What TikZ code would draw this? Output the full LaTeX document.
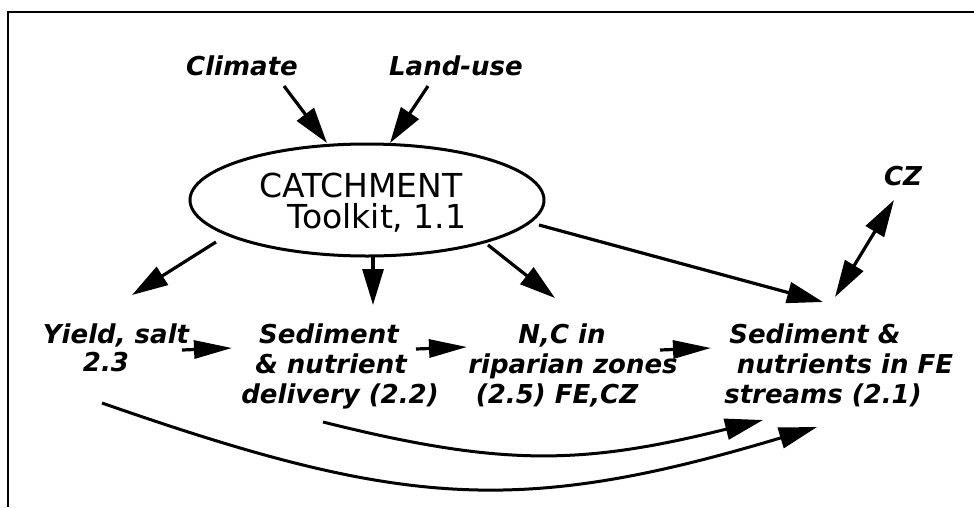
\documentclass[tikz,border=0pt]{standalone}
\usepackage{fontspec}
\setmainfont{DejaVu Sans}
\usetikzlibrary{arrows.meta,shapes.geometric}
\begin{document}
\begin{tikzpicture}[x=1pt,y=-1pt,
  lab/.style={font=\fontsize{26}{30}\selectfont\bfseries\itshape, inner sep=0pt, anchor=base},
  boxtext/.style={font=\fontsize{33}{36}\selectfont, inner sep=0pt, anchor=base},
  arr/.style={line width=3.2pt, -{Triangle[length=36pt,width=21pt]}},
  darr/.style={line width=3.2pt, {Triangle[length=37pt,width=21pt]}-{Triangle[length=37pt,width=21pt]}},
  harr/.style={line width=3.2pt, -{Triangle[length=38pt,width=18pt]}},
  carr/.style={line width=3pt, -{Triangle[length=38pt,width=21pt]}},
]
\useasboundingbox (0,0) rectangle (974,507);
\fill[white] (0,0) rectangle (974,507);
\draw[line width=2pt] (7.5,507) -- (7.5,11.5) -- (974,11.5);

% nodes
\node[lab] (climate) at (242,75) {Climate};
\node[lab] (landuse) at (456,75) {Land-use};
\node[draw, ellipse, line width=3pt, minimum width=354pt, minimum height=112pt, inner sep=0pt] (cat) at (367,200) {};
\node[boxtext] (cat1) at (361,197) {CATCHMENT};
\node[boxtext] (cat2) at (377,228) {Toolkit, 1.1};
\node[lab] (cz) at (903,185) {CZ};

\node[lab] (y1) at (116,343) {Yield, salt};
\node[lab] (y2) at (106,371) {2.3};
\node[lab] (s1) at (329,343) {Sediment};
\node[lab] (s2) at (331,373) {\& nutrient};
\node[lab] (s3) at (340,403) {delivery (2.2)};
\node[lab] (n1) at (562,343) {N,C in};
\node[lab] (n2) at (573,373) {riparian zones};
\node[lab] (n3) at (557,403) {(2.5) FE,CZ};
\node[lab] (f1) at (815,343) {Sediment \&};
\node[lab] (f2) at (845,373) {nutrients in FE};
\node[lab] (f3) at (823,403) {streams (2.1)};

% connector end points
\coordinate (cl1) at (284,86);  \coordinate (cl2) at (327,143);
\coordinate (lu1) at (428,86);  \coordinate (lu2) at (390,143);
\coordinate (e1) at (216,242);  \coordinate (yt) at (132,295);
\coordinate (e2) at (373,257);  \coordinate (st) at (373,305);
\coordinate (e3) at (488,245);  \coordinate (nt) at (555,298);
\coordinate (e4) at (539,225);  \coordinate (ft) at (823,302);
\coordinate (cza) at (894,200); \coordinate (czb) at (835,297);
\coordinate (h1a) at (182,350); \coordinate (h1b) at (232,348);
\coordinate (h2a) at (416,349); \coordinate (h2b) at (467,347);
\coordinate (h3a) at (660,350); \coordinate (h3b) at (711,348);
\coordinate (la) at (102,403);  \coordinate (lb) at (817,427);
\coordinate (ua) at (323,422);  \coordinate (ub) at (763,420);

% connectors
\draw[arr] (cl1) -- (cl2);
\draw[arr] (lu1) -- (lu2);
\draw[arr] (e1) -- (yt);
\draw[arr] (e2) -- (st);
\draw[arr] (e3) -- (nt);
\draw[arr] (e4) -- (ft);
\draw[darr] (cza) -- (czb);
\draw[harr] (h1a) -- (h1b);
\draw[harr] (h2a) -- (h2b);
\draw[harr] (h3a) -- (h3b);
\draw[carr] (la) .. controls (400,507) and (517,517) .. (lb);
\draw[carr] (ua) .. controls (503,467) and (582,465) .. (ub);
\end{tikzpicture}
\end{document}
